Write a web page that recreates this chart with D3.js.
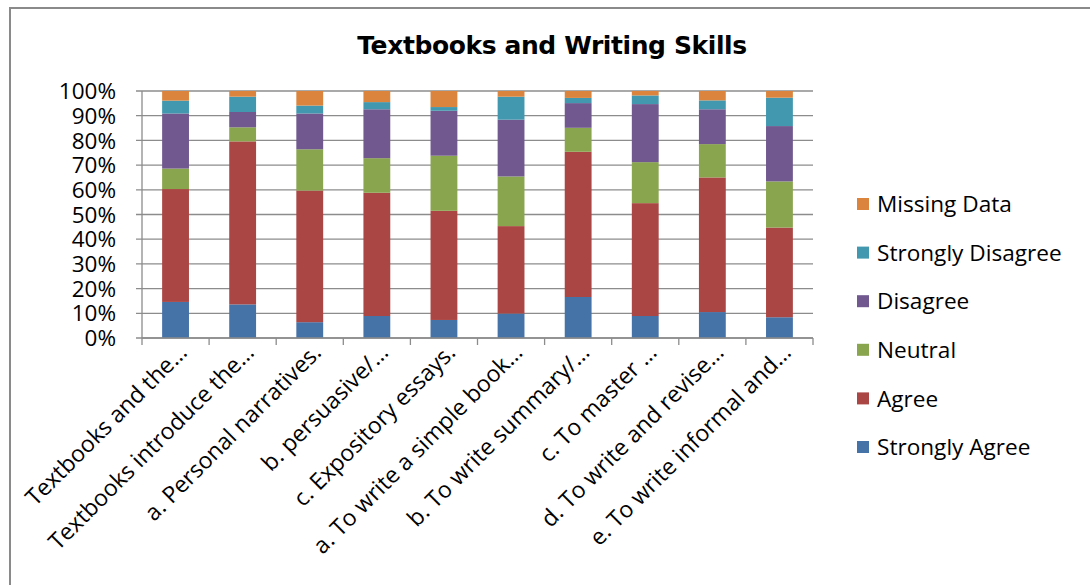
<!DOCTYPE html>
<html>
<head>
<meta charset="utf-8">
<script src="https://cdn.jsdelivr.net/npm/d3@7"></script>
<style>
  html, body { margin: 0; padding: 0; background: #fff; }
  svg { display: block; }
</style>
</head>
<body>
<svg id="chart" width="1090" height="585"></svg>
<script>
const categories = [
  "Textbooks and the…",
  "Textbooks introduce the…",
  "a. Personal narratives.",
  "b. persuasive/…",
  "c. Expository essays.",
  "a. To write a simple book…",
  "b. To write summary/…",
  "c. To master …",
  "d. To write and revise…",
  "e. To write informal and…"
];
const seriesNames = ["Strongly Agree", "Agree", "Neutral", "Disagree", "Strongly Disagree", "Missing Data"];
const stronglyAgree    = [14.6, 13.6, 6.4, 8.9, 7.3, 9.9, 16.6, 8.9, 10.5, 8.4];
const agree            = [45.7, 66.0, 53.3, 49.9, 44.2, 35.4, 58.8, 45.7, 54.5, 36.3];
const neutral          = [8.3, 5.7, 16.7, 14.0, 22.3, 20.1, 9.7, 16.6, 13.5, 18.7];
const disagree         = [22.3, 6.2, 14.5, 19.8, 18.2, 23.0, 10.0, 23.5, 14.1, 22.4];
const stronglyDisagree = [5.2, 6.2, 3.2, 2.9, 1.5, 9.3, 2.1, 3.5, 3.6, 11.5];
const missingData      = [3.9, 2.3, 5.9, 4.5, 6.5, 2.3, 2.8, 1.8, 3.8, 2.7];
const yTicks = [0, 10, 20, 30, 40, 50, 60, 70, 80, 90, 100];
const colors = ["#4572A7", "#AA4643", "#89A54E", "#71588F", "#4198AF", "#DB843D"];

const seriesValues = [stronglyAgree, agree, neutral, disagree, stronglyDisagree, missingData];
const table = categories.map((c, i) => {
  const row = { category: c };
  seriesNames.forEach((s, j) => row[s] = seriesValues[j][i]);
  return row;
});
const stacked = d3.stack().keys(seriesNames).offset(d3.stackOffsetExpand)(table);

const svg = d3.select("#chart");
const margin = { left: 142, right: 813, top: 91, bottom: 338 };

// chart frame
svg.append("rect").attr("x", 10).attr("y", 8).attr("width", 1100).attr("height", 600)
  .attr("fill", "#fff").attr("stroke", "#8a8a8a").attr("stroke-width", 2);

const x = d3.scaleBand().domain(categories).range([margin.left, margin.right]).paddingInner(0.6).paddingOuter(0.3);
const y = d3.scaleLinear().domain([0, 1]).range([margin.bottom, margin.top]);

// gridlines
svg.append("g").selectAll("line").data(yTicks).join("line")
  .attr("x1", margin.left - 6).attr("x2", margin.right)
  .attr("y1", d => y(d / 100)).attr("y2", d => y(d / 100))
  .attr("stroke", "#8c8c8c").attr("stroke-width", 1.3);

// y axis labels
svg.append("g").selectAll("text").data(yTicks).join("text")
  .attr("x", 116).attr("y", d => y(d / 100)).attr("dy", "0.36em")
  .attr("text-anchor", "end")
  .attr("font-family", "Open Sans, sans-serif").attr("font-size", 22.5).attr("fill", "#000")
  .text(d => d + "%");

// bars
svg.append("g").selectAll("g").data(stacked).join("g")
  .attr("fill", (d, i) => colors[i])
  .selectAll("rect").data(d => d).join("rect")
  .attr("x", d => x(d.data.category))
  .attr("width", x.bandwidth())
  .attr("y", d => y(d[1]))
  .attr("height", d => y(d[0]) - y(d[1]));

// axis lines
svg.append("line").attr("x1", margin.left).attr("x2", margin.left)
  .attr("y1", margin.top).attr("y2", margin.bottom)
  .attr("stroke", "#8c8c8c").attr("stroke-width", 1.3);
svg.append("line").attr("x1", margin.left).attr("x2", margin.right)
  .attr("y1", margin.bottom).attr("y2", margin.bottom)
  .attr("stroke", "#8c8c8c").attr("stroke-width", 1.3);

// x ticks at category boundaries
const boundaries = d3.range(categories.length + 1).map(i => margin.left + i * (margin.right - margin.left) / categories.length);
svg.append("g").selectAll("line").data(boundaries).join("line")
  .attr("x1", d => d).attr("x2", d => d)
  .attr("y1", margin.bottom).attr("y2", margin.bottom + 7)
  .attr("stroke", "#8c8c8c").attr("stroke-width", 1.3);

// x labels
svg.append("g").selectAll("text").data(categories).join("text")
  .attr("transform", d => `translate(${x(d) + x.bandwidth() / 2 + 7},${margin.bottom + 10}) rotate(-45)`)
  .attr("text-anchor", "end").attr("dy", "0.36em")
  .attr("font-family", "Open Sans, sans-serif").attr("font-size", 23).attr("fill", "#000")
  .text(d => d);

// title
svg.append("text").attr("x", 552).attr("y", 54).attr("text-anchor", "middle")
  .attr("font-family", "DejaVu Sans, Verdana, sans-serif").attr("font-weight", "bold")
  .attr("font-size", 25).attr("fill", "#000").attr("letter-spacing", -0.4)
  .text("Textbooks and Writing Skills");

// legend (reverse order)
const legendItems = seriesNames.map((s, i) => ({ name: s, color: colors[i] })).reverse();
const lg = svg.append("g").selectAll("g").data(legendItems).join("g")
  .attr("transform", (d, i) => `translate(857,${204 + i * 48.6})`);
lg.append("rect").attr("x", 0).attr("y", -6).attr("width", 12).attr("height", 12).attr("fill", d => d.color);
lg.append("text").attr("x", 20).attr("y", 0).attr("dy", "0.36em")
  .attr("font-family", "Open Sans, sans-serif").attr("font-size", 22.6).attr("fill", "#000")
  .text(d => d.name);
</script>
</body>
</html>
